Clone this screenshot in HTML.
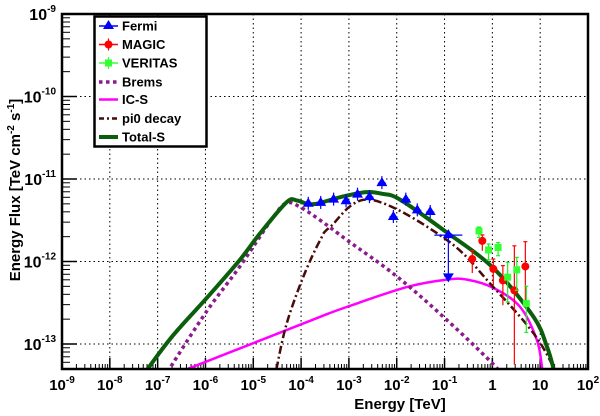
<!DOCTYPE html>
<html><head><meta charset="utf-8">
<style>
html,body{margin:0;padding:0;background:#fff;}
svg{display:block;font-family:"Liberation Sans",Arial,sans-serif;}
</style></head>
<body>
<svg id="chart" width="600" height="416" viewBox="0 0 600 416" xmlns="http://www.w3.org/2000/svg">
<defs><clipPath id="clip"><rect x="62" y="14" width="526" height="355"/></clipPath></defs>
<g id="grid"></g>
<g id="axes"></g>
<g id="curves" clip-path="url(#clip)"></g>
<g id="points"></g>
<rect x="62" y="14" width="526" height="355" fill="none" stroke="#000" stroke-width="2.5"/>
<text x="400" y="409" font-size="15" font-weight="bold" text-anchor="middle">Energy [TeV]</text>
<text transform="translate(20,190) rotate(-90)" font-size="15" font-weight="bold" text-anchor="middle">Energy Flux [TeV cm<tspan dy="-6" font-size="10">-2</tspan><tspan dy="6"> s</tspan><tspan dy="-6" font-size="10">-1</tspan><tspan dy="6">]</tspan></text>
<g id="legend"></g>
</svg>
<script>
// ---- data (log10 energy [TeV], log10 flux) ----
const fermiLogE = [-3.85,-3.59,-3.32,-3.06,-2.82,-2.57,-2.31,-2.07,-1.81,-1.57,-1.30];
const fermiLogF = [-11.30,-11.29,-11.25,-11.27,-11.19,-11.22,-11.05,-11.46,-11.25,-11.38,-11.40];
const fermiUlLogE = [-0.92];
const fermiUlLogF = [-11.68];
const fermiUlLow = [-12.18];
const magicLogE = [-0.42,-0.21,0.02,0.22,0.46,0.69];
const magicLogF = [-11.97,-11.75,-12.09,-12.23,-12.35,-12.06];
const magicErr = [0.17,0.12,0.2,0.3,0.9,0.5];
const veritasLogE = [-0.28,-0.08,0.12,0.32,0.51,0.71];
const veritasLogF = [-11.63,-11.86,-11.83,-12.19,-12.10,-12.51];
const veritasErr = [0.08,0.12,0.1,0.3,0.25,0.35];
const totalLogE = [-7.30,-7.195,-6.67,-5.97,-5.28,-4.86,-4.30,-4.09,-3.88,-3.67,-3.18,-2.66,-2.30,-1.93,-0.97,0.02,0.86,1.14,1.27,1.35];
const totalLogF = [-13.38,-13.29,-12.89,-12.44,-11.98,-11.66,-11.28,-11.26,-11.30,-11.30,-11.22,-11.16,-11.18,-11.25,-11.64,-12.08,-12.67,-13.03,-13.28,-13.5];
const bremsLogE = [-6.85,-6.74,-5.97,-5.28,-4.58,-4.30,-4.02,-3.60,-3.04,-2.00,-0.95,0.09,0.3];
const bremsLogF = [-13.42,-13.29,-12.60,-12.06,-11.46,-11.29,-11.34,-11.50,-11.74,-12.18,-12.71,-13.29,-13.5];
const icLogE = [-6.6,-6.32,-5.0,-3.60,-3.04,-1.79,-0.95,-0.53,0.02,0.58,0.93,1.04,1.08];
const icLogF = [-13.36,-13.29,-12.99,-12.67,-12.55,-12.31,-12.22,-12.22,-12.32,-12.55,-12.95,-13.29,-13.5];
const pi0LogE = [-4.56,-4.51,-4.30,-3.95,-3.60,-3.39,-2.56,-0.95,0.02,0.86,1.28,1.35];
const pi0LogF = [-13.5,-13.29,-12.75,-12.18,-11.74,-11.58,-11.25,-11.74,-12.31,-12.87,-13.29,-13.5];
const xTicks = [-9,-8,-7,-6,-5,-4,-3,-2,-1,0,1,2];
const yTicks = [-9,-10,-11,-12,-13];

// ---- axes ----
const X0=62,X1=588,Y0=14,Y1=369;
const xMin=-9,xMax=2,yTop=-9,yDec=82.5;
const sx=v=>X0+(v-xMin)*(X1-X0)/(xMax-xMin);
const sy=v=>Y0+(yTop-v)*yDec;
const NS="http://www.w3.org/2000/svg";
function mk(tag,attrs,parent){const e=document.createElementNS(NS,tag);for(const k in attrs)e.setAttribute(k,attrs[k]);parent.appendChild(e);return e;}
const grid=document.getElementById('grid'),axes=document.getElementById('axes');
xTicks.forEach(t=>{
  const x=sx(t);
  if(t>xMin&&t<xMax){const l=mk('line',{x1:x,x2:x,y1:Y0,y2:Y1,stroke:'#000','stroke-width':1,'stroke-dasharray':'1.5,3'},grid);
  
  }
  mk('line',{x1:x,x2:x,y1:Y1,y2:Y1-11,stroke:'#000','stroke-width':1.5},axes);
  if(t<xMax){for(let k=2;k<10;k++){const xm=sx(t+Math.log10(k));mk('line',{x1:xm,x2:xm,y1:Y1,y2:Y1-5,stroke:'#000','stroke-width':1},axes);}}
  const tx=mk('text',{x:x,y:390,'font-size':15,'font-weight':'bold','text-anchor':'middle'},axes);
  
  
  if(t===0)tx.textContent='1';else if(t===1)tx.textContent='10';
  else{tx.textContent='10';const s=mk('tspan',{dy:-7,'font-size':10},tx);s.textContent=String(t);}
});
yTicks.forEach(t=>{
  const y=sy(t);
  if(t<yTop){const l=mk('line',{x1:X0,x2:X1,y1:y,y2:y,stroke:'#000','stroke-width':1,'stroke-dasharray':'1.5,3'},grid);
  
  }
  mk('line',{x1:X0,x2:X0+15,y1:y,y2:y,stroke:'#000','stroke-width':1.5},axes);
  for(let k=2;k<10;k++){const ym=sy(t-1+Math.log10(k));if(ym<Y1)mk('line',{x1:X0,x2:X0+8,y1:ym,y2:ym,stroke:'#000','stroke-width':1},axes);}
  const tx=mk('text',{x:56,y:y+6,'font-size':16,'font-weight':'bold','text-anchor':'end'},axes);
  
  
  tx.textContent='10';
  const s=mk('tspan',{dy:-8,'font-size':10},tx);s.textContent=String(t);
});
// ---- curves ----
function smooth(xs,ys){
  const p=xs.map((v,i)=>[sx(v),sy(ys[i])]);
  let d='M'+p[0][0]+','+p[0][1];
  for(let i=0;i<p.length-1;i++){
    const p0=p[i-1]||p[i],p1=p[i],p2=p[i+1],p3=p[i+2]||p2;
    const c1=[p1[0]+(p2[0]-p0[0])/6,p1[1]+(p2[1]-p0[1])/6],c2=[p2[0]-(p3[0]-p1[0])/6,p2[1]-(p3[1]-p1[1])/6];
    d+=' C'+c1+' '+c2+' '+p2;
  }
  return d;
}
const curves=document.getElementById('curves');
const c1=mk('path',{d:smooth(icLogE,icLogF),fill:'none',stroke:'#ff00ff','stroke-width':2.5},curves);


const c2=mk('path',{d:smooth(bremsLogE,bremsLogF),fill:'none',stroke:'#8b1a8b','stroke-width':3.5,'stroke-dasharray':'3.5,3.5'},curves);


const c3=mk('path',{d:smooth(pi0LogE,pi0LogF),fill:'none',stroke:'#4a0a0a','stroke-width':2.5,'stroke-dasharray':'8,3,2,3'},curves);


const c4=mk('path',{d:smooth(totalLogE,totalLogF),fill:'none',stroke:'#0b5e0b','stroke-width':4},curves);


// ---- points ----
const pts=document.getElementById('points');
function tri(x,y,down){const h=6;return down?`${x-5.5},${y-h/2} ${x+5.5},${y-h/2} ${x},${y+h}`:`${x-5.5},${y+h/2} ${x+5.5},${y+h/2} ${x},${y-h}`;}
fermiLogE.forEach((e,i)=>{
  const x=sx(e),y=sy(fermiLogF[i]);
  mk('line',{x1:x-4,x2:x+4,y1:y,y2:y,stroke:'#0000ff','stroke-width':1.2},pts);
  mk('line',{x1:x,x2:x,y1:y-7,y2:y+6,stroke:'#0000ff','stroke-width':1.2},pts);
  const p=mk('polygon',{points:tri(x,y,false),fill:'#0000ff'},pts);
  
  
});
fermiUlLogE.forEach((e,i)=>{
  const x=sx(e),y=sy(fermiUlLogF[i]),y2=sy(fermiUlLow[i]);
  mk('line',{x1:x-14,x2:x+14,y1:y,y2:y,stroke:'#0000ff','stroke-width':1.2},pts);
  mk('line',{x1:x,x2:x,y1:y,y2:y2,stroke:'#0000ff','stroke-width':1.2},pts);
  mk('polygon',{points:tri(x,y,false),fill:'#0000ff'},pts);
  const p=mk('polygon',{points:tri(x,y2,true),fill:'#0000ff'},pts);
  
  
});
magicLogE.forEach((e,i)=>{
  const x=sx(e),y=sy(magicLogF[i]);
  const yl=Math.min(Y1,sy(magicLogF[i]-magicErr[i])),yh=sy(magicLogF[i]+magicErr[i]*0.6);
  mk('line',{x1:x,x2:x,y1:yh,y2:yl,stroke:'#ff0000','stroke-width':1.2},pts);
  mk('line',{x1:x-2,x2:x+2,y1:yh,y2:yh,stroke:'#ff0000','stroke-width':1.2},pts);
  const c=mk('circle',{cx:x,cy:y,r:4,fill:'#ff0000'},pts);
  
  
});
veritasLogE.forEach((e,i)=>{
  const x=sx(e),y=sy(veritasLogF[i]);
  const yl=sy(veritasLogF[i]-veritasErr[i]),yh=sy(veritasLogF[i]+veritasErr[i]*0.6);
  mk('line',{x1:x,x2:x,y1:yh,y2:yl,stroke:'#22ee22','stroke-width':1.2},pts);
  mk('line',{x1:x-2,x2:x+2,y1:yh,y2:yh,stroke:'#22ee22','stroke-width':1.2},pts);
  mk('line',{x1:x-2,x2:x+2,y1:yl,y2:yl,stroke:'#22ee22','stroke-width':1.2},pts);
  const r=mk('rect',{x:x-3.5,y:y-3.5,width:7,height:7,fill:'#33ff33'},pts);
  
  
});
// ---- legend ----
const lg=document.getElementById('legend');
mk('rect',{x:94.5,y:16.5,width:112,height:130,fill:'#fff',stroke:'#000','stroke-width':2.5},lg);
const items=[['Fermi','tri','#0000ff'],['MAGIC','circ','#ff0000'],['VERITAS','sq','#33ff33'],['Brems','dot','#8b1a8b'],['IC-S','line','#ff00ff'],['pi0 decay','dd','#4a0a0a'],['Total-S','thick','#0b5e0b']];
const ly=[26,44.5,63,82,99.5,118.5,137];
items.forEach((it,i)=>{
  const y=ly[i],g=mk('g',{},lg);
  
  
  const c=it[2];
  if(it[1]==='tri'){mk('line',{x1:99,x2:118,y1:y,y2:y,stroke:c,'stroke-width':1.5},g);mk('polygon',{points:tri(108.5,y,false),fill:c},g);}
  else if(it[1]==='circ'){mk('line',{x1:99,x2:118,y1:y,y2:y,stroke:c,'stroke-width':1.5},g);mk('line',{x1:108.5,x2:108.5,y1:y-6,y2:y+6,stroke:c,'stroke-width':1.2},g);mk('circle',{cx:108.5,cy:y,r:4,fill:c},g);}
  else if(it[1]==='sq'){mk('line',{x1:99,x2:118,y1:y,y2:y,stroke:c,'stroke-width':1.5},g);mk('line',{x1:108.5,x2:108.5,y1:y-6,y2:y+6,stroke:c,'stroke-width':1.2},g);mk('rect',{x:105,y:y-3.5,width:7,height:7,fill:c},g);}
  else if(it[1]==='dot'){mk('line',{x1:99,x2:118,y1:y,y2:y,stroke:c,'stroke-width':3.5,'stroke-dasharray':'3.5,3.5'},g);}
  else if(it[1]==='line'){mk('line',{x1:99,x2:118,y1:y,y2:y,stroke:c,'stroke-width':2.5},g);}
  else if(it[1]==='dd'){mk('line',{x1:99,x2:118,y1:y,y2:y,stroke:c,'stroke-width':2.5,'stroke-dasharray':'5,3,2,3'},g);}
  else {mk('line',{x1:99,x2:118,y1:y,y2:y,stroke:c,'stroke-width':4},g);}
  const t=mk('text',{x:122,y:y+4.5,'font-size':13,'font-weight':'bold'},g);t.textContent=it[0];
});
</script>
</body></html>
